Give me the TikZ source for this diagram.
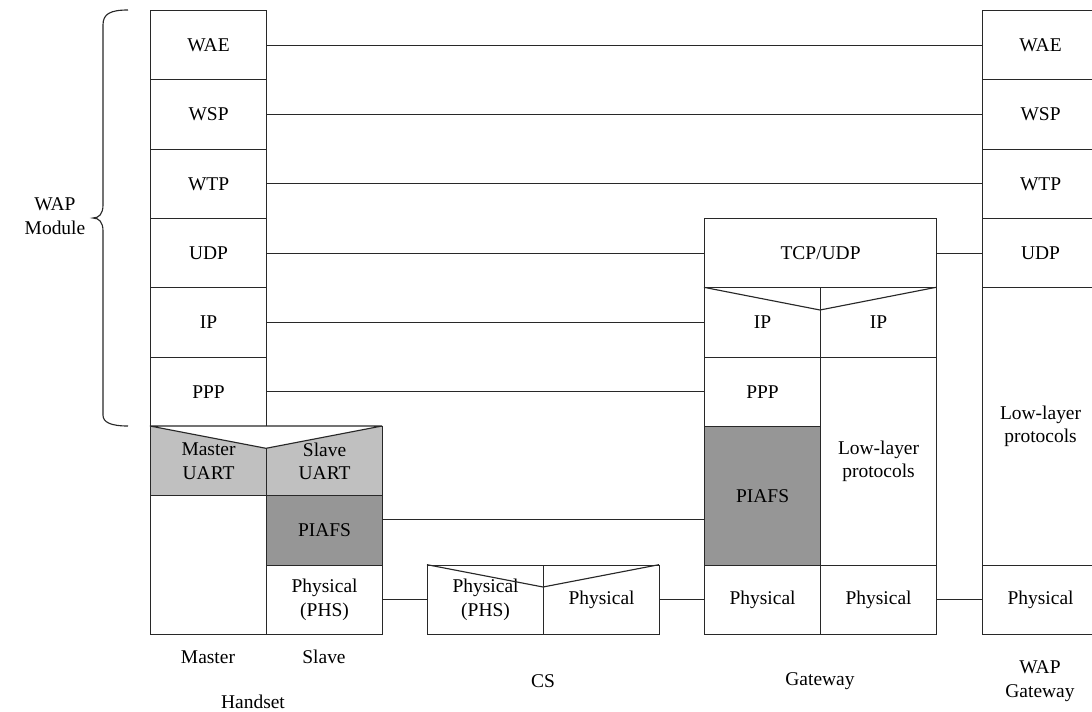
\documentclass[tikz,border=0pt]{standalone}
\usepackage{fontspec}
\setmainfont{Liberation Serif}
\usetikzlibrary{calc}
\definecolor{ugray}{RGB}{192,192,192}
\definecolor{pgray}{RGB}{150,150,150}
\definecolor{lcol}{RGB}{40,40,40}
\begin{document}
\begin{tikzpicture}[x=0.75pt,y=-0.75pt,
  every node/.style={font=\fontsize{14.6}{17.5}\selectfont, text=black},
  cell/.style={draw=lcol, line width=0.85pt, inner sep=0pt, anchor=north west,
    minimum width=87pt, minimum height=52pt, align=center},
  tall/.style={minimum height=104pt},
  wide/.style={minimum width=174pt},
  conn/.style={draw=lcol, line width=0.85pt},
  lbl/.style={align=center, inner sep=0pt}]
\useasboundingbox (0,0) rectangle (1092,711);
\clip (0,0) rectangle (1092,711);
% fills
\fill[ugray] (150,426) -- (266,448.3) -- (382,426) -- (382,495.33) -- (150,495.33) -- cycle;
% Handset
\node[cell] (hWAE) at (150,10) {WAE};
\node[cell] (hWSP) at (150,79.33) {WSP};
\node[cell] (hWTP) at (150,148.67) {WTP};
\node[cell] (hUDP) at (150,218) {UDP};
\node[cell] (hIP)  at (150,287.33) {IP};
\node[cell] (hPPP) at (150,356.67) {PPP};
\node[cell] (hMU)  at (150,426) {Master\\UART};
\node[cell] (hSU)  at (266,426) {Slave\\UART};
\node[cell,tall] (hM) at (150,495.33) {};
\node[cell,fill=pgray] (hPIAFS) at (266,495.33) {PIAFS};
\node[cell] (hPhys) at (266,564.67) {Physical\\(PHS)};
\draw[conn,fill=white] (150,426) -- (266,448.3) -- (382,426) -- cycle;
% CS
\node[cell] (csA) at (427,564.67) {Physical\\(PHS)};
\node[cell] (csB) at (543,564.67) {Physical};
\draw[conn] (427,564.67) -- (543,587) -- (659,564.67);
% Gateway
\node[cell,wide] (gTCP) at (704,218) {TCP/UDP};
\node[cell] (gIPa) at (704,287.33) {IP};
\node[cell] (gIPb) at (820,287.33) {IP};
\draw[conn] (704,287.33) -- (820,310) -- (936,287.33);
\node[cell] (gPPP) at (704,356.67) {PPP};
\node[cell,tall,fill=pgray] (gPIAFS) at (704,426) {PIAFS};
\node[cell,minimum height=156pt] (gLow) at (820,356.67) {Low-layer\\protocols};
\node[cell] (gPa) at (704,564.67) {Physical};
\node[cell] (gPb) at (820,564.67) {Physical};
% WAP Gateway
\node[cell] (wWAE) at (982,10) {WAE};
\node[cell] (wWSP) at (982,79.33) {WSP};
\node[cell] (wWTP) at (982,148.67) {WTP};
\node[cell] (wUDP) at (982,218) {UDP};
\node[cell,minimum height=208pt] (wLow) at (982,287.33) {Low-layer\\protocols};
\node[cell] (wPhys) at (982,564.67) {Physical};
% connectors
\draw[conn] (hWAE.east) -- (wWAE.west);
\draw[conn] (hWSP.east) -- (wWSP.west);
\draw[conn] (hWTP.east) -- (wWTP.west);
\draw[conn] (hUDP.east) -- (gTCP.west);
\draw[conn] (gTCP.east) -- (wUDP.west);
\draw[conn] (hIP.east) -- (gIPa.west);
\draw[conn] ($(gIPb.east)+(0,2)$) -- ($(gIPb.east)+(0,2)$ -| wLow.west);
\draw[conn] (hPPP.east) -- (gPPP.west);
\draw[conn] ($(gLow.east)+(0,-2)$) -- ($(gLow.east)+(0,-2)$ -| wLow.west);
\coordinate (pa) at ($(hPIAFS.north east)!0.34!(hPIAFS.south east)$);
\draw[conn] (pa) -- (pa -| gPIAFS.west);
\draw[conn] (hPhys.east) -- (csA.west);
\draw[conn] (csB.east) -- (gPa.west);
\draw[conn] (gPb.east) -- (wPhys.west);
% brace
\draw[conn] (128,10) .. controls (110,10) and (103,14) .. (103,25) -- (103,205)
  .. controls (103,214) and (99,218) .. (93,218)
  .. controls (99,218) and (103,222) .. (103,231) -- (103,415)
  .. controls (103,422) and (110,426) .. (128,426);
\node[lbl] (wapmod) at (55,216) {WAP\\Module};
% labels
\node[lbl] (lmaster) at (208,657) {Master};
\node[lbl] (lslave) at (324,657) {Slave};
\node[lbl] (lhand) at (253,702) {Handset};
\node[lbl] (lcs) at (543,681) {CS};
\node[lbl] (lgw) at (820,681) {Gateway};
\node[lbl,font=\fontsize{14.6}{18}\selectfont] (lwgw) at (1040,681) {WAP\\Gateway};
\end{tikzpicture}
\end{document}
